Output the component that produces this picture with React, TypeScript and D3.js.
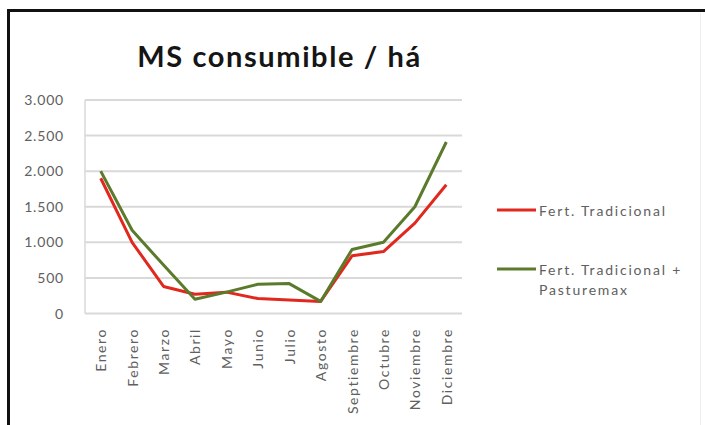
import * as React from 'react';
import * as d3 from 'd3';

const months = ['Enero', 'Febrero', 'Marzo', 'Abril', 'Mayo', 'Junio', 'Julio', 'Agosto',
    'Septiembre', 'Octubre', 'Noviembre', 'Diciembre'];
const tradicional = [1900, 1000, 380, 270, 300, 210, 190, 170, 810, 870, 1270, 1810];
const pasturemax = [2000, 1170, 680, 200, 300, 410, 420, 170, 900, 1000, 1500, 2410];
const yTicks = [0, 500, 1000, 1500, 2000, 2500, 3000];

const W = 705;
const H = 425;
const plot = { left: 85, right: 462, top: 100, bottom: 313.5 };
const font = 'Lato, "Open Sans", sans-serif';
const txtColor = '#606060';

const series = [
    { name: ['Fert. Tradicional'], values: tradicional, color: '#e0281f', ly: 210 },
    { name: ['Fert. Tradicional +', 'Pasturemax'], values: pasturemax, color: '#5b7a2c', ly: 269 },
];

export default function App() {
    React.useEffect(() => {
        document.body.style.margin = '0';
        document.body.style.overflow = 'hidden';
    }, []);

    const x = d3.scaleBand<string>().domain(months).range([plot.left, plot.right]);
    const y = d3.scaleLinear().domain([0, 3000]).range([plot.bottom, plot.top]);
    const line = d3.line<number>()
        .x((_, i) => (x(months[i]) || 0) + x.bandwidth() / 2)
        .y(d => y(d));
    const fmt = (v: number) => v === 0 ? '0' : d3.format(',')(v).replace(',', '.');

    return <svg width={W} height={H} style={{ display: 'block', background: '#fff' }}>
        <rect x={0} y={0} width={W} height={H} fill="#fff" />
        {/* frame */}
        <line x1={7} x2={W} y1={10.5} y2={10.5} stroke="#111" strokeWidth={3} />
        <line x1={8.5} x2={8.5} y1={9} y2={H} stroke="#111" strokeWidth={3} />
        <line x1={700.5} x2={700.5} y1={13} y2={H} stroke="#eeeeee" strokeWidth={1} />

        <text x={279.5} y={66.5} textAnchor="middle" fontFamily={font} fontWeight={700}
            fontSize={29} letterSpacing={1.6} fill="#151515">MS consumible / há</text>

        {yTicks.map(t => <g key={t}>
            <line x1={plot.left} x2={plot.right} y1={y(t)} y2={y(t)} stroke="#d9d9d9" strokeWidth={2} />
            <text x={64} y={y(t) + 5} textAnchor="end" fontFamily={font} fontSize={14}
                letterSpacing={0.8} fill={txtColor}>{fmt(t)}</text>
        </g>)}
        <line x1={plot.left} x2={plot.left} y1={plot.top} y2={plot.bottom} stroke="#d9d9d9" strokeWidth={1.5} />

        {months.map(m => {
            const cx = (x(m) || 0) + x.bandwidth() / 2;
            return <text key={m} transform={`translate(${cx + 5.5},${328}) rotate(-90)`}
                textAnchor="end" fontFamily={font} fontSize={14} letterSpacing={1.6}
                fill={txtColor}>{m}</text>;
        })}

        {series.map(s => <g key={s.color}>
            <path d={line(s.values) || ''} fill="none" stroke={s.color} strokeWidth={3}
                strokeLinejoin="round" />
            <line x1={497} x2={536} y1={s.ly} y2={s.ly} stroke={s.color} strokeWidth={3} />
            {s.name.map((n, i) => <text key={n} x={539} y={s.ly + 6 + i * 20}
                fontFamily={font} fontSize={14} letterSpacing={1.8} fill={txtColor}>{n}</text>)}
        </g>)}
    </svg>;
}
